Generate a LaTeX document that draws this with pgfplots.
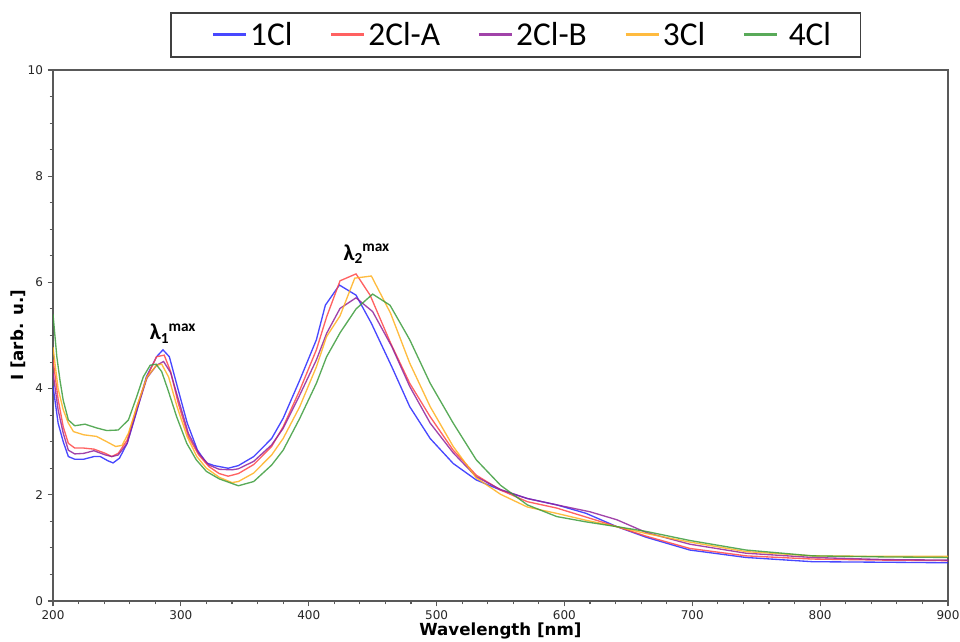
\documentclass[border=0pt]{standalone}
\usepackage{fontspec}
\setmainfont{DejaVu Sans}
\newfontfamily\carlito{Carlito}
\usepackage{pgfplots}
\pgfplotsset{compat=1.18}
\definecolor{cblue}{RGB}{40,40,255}
\definecolor{cred}{RGB}{255,70,70}
\definecolor{cpurple}{RGB}{145,35,155}
\definecolor{corange}{RGB}{255,176,30}
\definecolor{cgreen}{RGB}{60,156,60}
\pgfplotsset{firstlegend/.style={legend image code/.code={\path (0pt,0pt); \draw[##1, line width=2pt] (11pt,0pt) -- (36pt,0pt);}}}
\begin{document}
\begin{tikzpicture}
\useasboundingbox (0,0) rectangle (720pt,481.5pt);
\begin{axis}[
  at={(39.75pt,30.75pt)}, anchor=south west,
  scale only axis, width=671.25pt, height=398.25pt,
  xmin=200, xmax=900, ymin=0, ymax=10,
  xtick={200,300,...,900}, ytick={0,2,...,10},
  minor x tick num=4, minor y tick num=3,
  tick align=outside, tick pos=left,
  major tick length=4pt, minor tick length=2.5pt,
  axis line style={black!65, line width=0.9pt},
  every tick/.style={black!65, line width=0.8pt},
  tick label style={font=\fontsize{9}{11}\selectfont, text=black!85},
  /pgf/number format/assume math mode=true,
  xlabel={Wavelength [nm]}, ylabel={I [arb. u.]},
  label style={font=\bfseries\fontsize{12.5}{15}\selectfont},
  xlabel style={at={(axis description cs:0.5,-0.0565)}, anchor=center},
  ylabel style={at={(axis description cs:-0.0386,0.5)}, anchor=center},
  legend columns=5,
  legend cell align=left,
  legend image code/.code={\draw[#1, line width=2pt] (0pt,0pt) -- (25pt,0pt);},
  legend style={at={(axis description cs:0.1307,1.109)}, anchor=north west,
    draw=black!75, line width=1.2pt, inner xsep=20pt, inner ysep=5pt,
    font=\carlito\fontsize{25}{28}\selectfont,
    /tikz/every even column/.append style={column sep=26pt}},
  every axis plot/.append style={line width=1pt, opacity=0.85},
]
\addplot[cblue, firstlegend] coordinates {
(200,4.05)(204,3.35)(208,3.0)(212,2.72)(217,2.67)(224,2.67)(232,2.72)(237,2.72)(243,2.64)(247,2.60)(252,2.69)(258,2.97)(265,3.53)(273,4.22)(281,4.60)(286,4.73)(291,4.60)(298,3.97)(305,3.35)(313,2.84)(320,2.60)(326,2.55)(337,2.50)(345,2.55)(357,2.72)(371,3.06)(380,3.44)(393,4.16)(406,4.92)(413,5.57)(424,5.95)(437,5.76)(449,5.23)(465,4.41)(479,3.66)(495,3.06)(513,2.59)(531,2.28)(550,2.09)(571,1.93)(594,1.81)(617,1.65)(641,1.40)(664,1.20)(698,0.96)(742,0.82)(794,0.74)(850,0.73)(900,0.72)};
\addlegendentry{1Cl}
\addplot[cred] coordinates {
(200,4.55)(204,3.8)(208,3.28)(212,2.97)(217,2.88)(224,2.88)(232,2.86)(241,2.78)(246,2.72)(251,2.78)(258,3.03)(265.6,3.66)(273.5,4.22)(281,4.60)(287,4.63)(292,4.32)(298,3.72)(306,3.09)(314,2.75)(322,2.53)(330,2.40)(337,2.35)(345,2.40)(357,2.57)(371,2.91)(380,3.28)(393,3.97)(406,4.73)(414,5.35)(424.5,6.03)(437,6.16)(448,5.76)(464,4.86)(479,4.10)(495,3.47)(513,2.84)(531,2.37)(550,2.09)(571,1.87)(594,1.75)(617,1.58)(641,1.40)(664,1.22)(698,0.99)(742,0.85)(794,0.79)(850,0.77)(900,0.76)};
\addlegendentry{2Cl-A}
\addplot[cpurple] coordinates {
(200,4.30)(204,3.6)(208,3.16)(212,2.84)(217,2.77)(224,2.78)(232,2.83)(241,2.75)(246,2.72)(251,2.75)(258,2.97)(265.6,3.6)(273.5,4.2)(281,4.44)(286.5,4.51)(292,4.3)(298,3.8)(306,3.15)(314,2.78)(322,2.56)(330,2.48)(340,2.47)(345,2.49)(357,2.63)(371,2.94)(380,3.25)(393,3.88)(406,4.54)(414,5.04)(424.5,5.51)(437,5.71)(450,5.45)(465,4.79)(479,4.04)(495,3.35)(513,2.79)(531,2.34)(550,2.10)(571,1.93)(594,1.81)(620,1.68)(641,1.53)(664,1.29)(698,1.07)(742,0.90)(794,0.82)(850,0.78)(900,0.77)};
\addlegendentry{2Cl-B}
\addplot[corange] coordinates {
(200,4.78)(204,4.0)(208,3.60)(212,3.35)(216,3.19)(224,3.13)(234,3.10)(242,3.0)(249,2.91)(254,2.93)(259,3.16)(265.6,3.66)(273.5,4.22)(281,4.44)(285,4.46)(290.4,4.22)(297,3.66)(305,3.09)(312.5,2.72)(320,2.50)(330,2.33)(340,2.23)(345,2.25)(357,2.41)(371,2.75)(380,3.06)(393,3.66)(406,4.41)(414,4.98)(424.5,5.37)(436,6.08)(449,6.12)(464,5.42)(479,4.48)(495,3.66)(513,2.91)(531,2.32)(550,2.01)(571,1.77)(594,1.65)(617,1.52)(641,1.40)(664,1.27)(698,1.11)(742,0.93)(794,0.85)(850,0.84)(900,0.84)};
\addlegendentry{3Cl}
\addplot[cgreen] coordinates {
(200,5.40)(203,4.6)(205.5,4.15)(208,3.78)(212,3.41)(217,3.30)(225,3.33)(234,3.26)(242,3.21)(251,3.22)(259,3.41)(265.5,3.85)(270.6,4.22)(276,4.44)(280.6,4.46)(285,4.32)(290,3.97)(296.7,3.47)(304.6,2.97)(312,2.66)(320,2.44)(330,2.30)(345,2.17)(357,2.25)(371,2.56)(380,2.84)(393,3.44)(406,4.10)(414,4.60)(424.5,5.05)(437,5.50)(450,5.78)(463.6,5.57)(479,4.92)(495,4.10)(513,3.35)(531,2.66)(550,2.18)(571,1.81)(594,1.59)(617,1.49)(641,1.40)(664,1.31)(698,1.14)(742,0.96)(794,0.85)(850,0.83)(900,0.82)};
\addlegendentry{\ 4Cl}
\node[anchor=base west, inner sep=0pt, font=\carlito\bfseries\fontsize{17}{19}\selectfont] at (axis cs:275.5,4.92) {λ\raisebox{-0.3ex}{\fontsize{11.5}{12}\selectfont 1}\raisebox{0.75ex}{\fontsize{11.5}{12}\selectfont max}};
\node[anchor=base west, inner sep=0pt, font=\carlito\bfseries\fontsize{17}{19}\selectfont] at (axis cs:427,6.42) {λ\raisebox{-0.3ex}{\fontsize{11.5}{12}\selectfont 2}\raisebox{0.75ex}{\fontsize{11.5}{12}\selectfont max}};
\end{axis}
\end{tikzpicture}
\end{document}
